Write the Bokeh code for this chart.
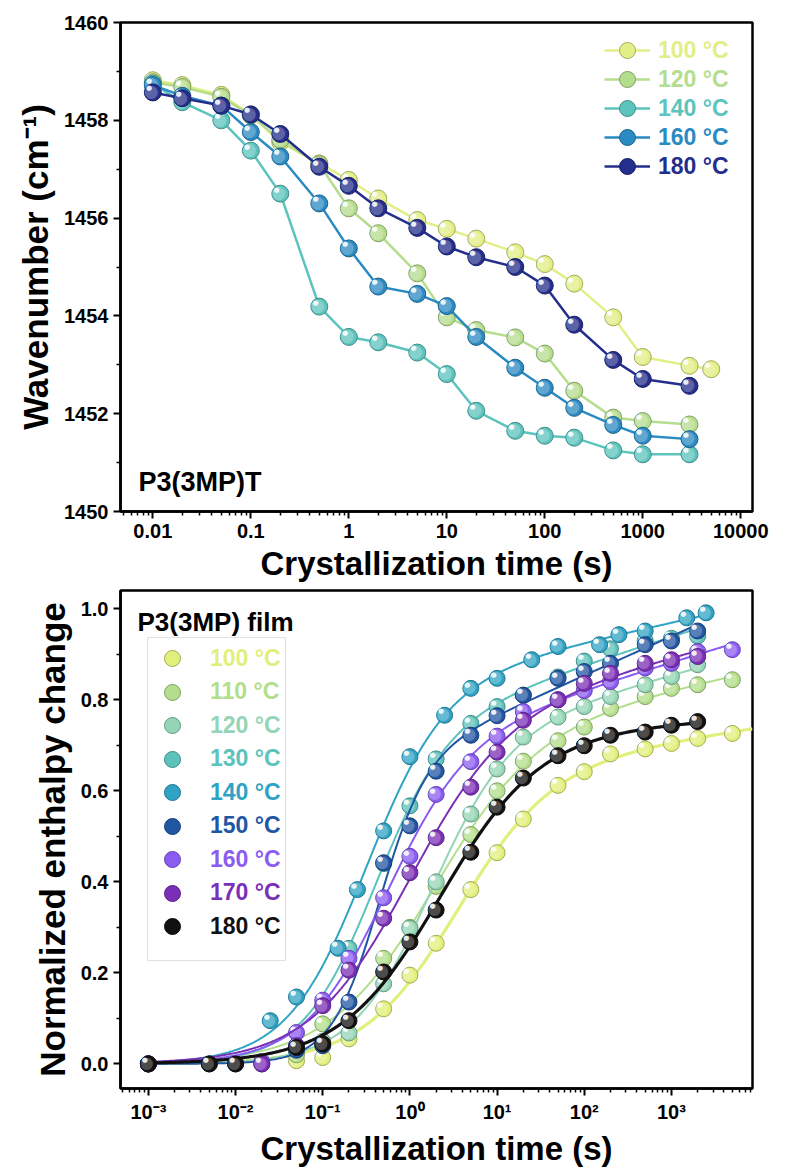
import numpy as np
from bokeh.plotting import figure
from bokeh.layouts import column
from bokeh.models import FixedTicker, Legend, LegendItem, Label, BoxAnnotation, Range1d
from bokeh.embed import file_html
from bokeh.resources import INLINE
from bokeh.core.properties import value

FONT = "Liberation Sans"
DOT_FONT = "DejaVu Sans"

# ---------------- Panel 1: band position vs. crystallization time ----------------
time_a = [0.01, 0.02, 0.05, 0.1, 0.2, 0.5, 1, 2, 5, 10, 20, 50, 100, 200, 500, 1000, 3000]
time_a_100 = time_a + [5000]
wn_100 = [1458.82, 1458.72, 1458.52, 1458.12, 1457.55, 1457.12, 1456.78, 1456.40, 1455.96,
          1455.78, 1455.58, 1455.30, 1455.06, 1454.66, 1453.97, 1453.16, 1452.98, 1452.91]
wn_120 = [1458.78, 1458.68, 1458.48, 1458.10, 1457.60, 1457.10, 1456.20, 1455.69, 1454.87,
          1453.97, 1453.71, 1453.56, 1453.23, 1452.47, 1451.92, 1451.85, 1451.78]
wn_140 = [1458.75, 1458.37, 1458.00, 1457.38, 1456.50, 1454.19, 1453.57, 1453.46, 1453.25,
          1452.81, 1452.06, 1451.65, 1451.55, 1451.51, 1451.25, 1451.17, 1451.17]
wn_160 = [1458.72, 1458.50, 1458.30, 1457.76, 1457.26, 1456.30, 1455.38, 1454.60, 1454.45,
          1454.20, 1453.57, 1452.94, 1452.53, 1452.12, 1451.77, 1451.55, 1451.48]
wn_180 = [1458.57, 1458.45, 1458.30, 1458.12, 1457.72, 1457.05, 1456.66, 1456.20, 1455.80,
          1455.42, 1455.20, 1455.00, 1454.62, 1453.82, 1453.10, 1452.71, 1452.57]
labels_a = ["100 °C", "120 °C", "140 °C", "160 °C", "180 °C"]
colors_a = ["#e2ee86", "#b5dd8e", "#5cc3bd", "#2a8ac2", "#242e8c"]
xticks_a = [0.01, 0.1, 1, 10, 100, 1000, 10000]
xtick_labels_a = ["0.01", "0.1", "1", "10", "100", "1000", "10000"]
yticks_a = [1450, 1452, 1454, 1456, 1458, 1460]

# ---------------- Panel 2: normalized enthalpy change (DSC) ----------------
t_100 = [0.001, 0.05, 0.1, 0.2, 0.5, 1, 2, 5, 10, 20, 50, 100, 200, 500, 1000, 2000, 5000]
h_100 = [0.0, 0.007, 0.014, 0.055, 0.121, 0.195, 0.265, 0.383, 0.464, 0.538, 0.612, 0.642,
         0.681, 0.692, 0.704, 0.715, 0.726]
t_110 = [0.001, 0.05, 0.1, 0.5, 1, 2, 5, 10, 20, 50, 100, 200, 500, 1000, 2000, 5000]
h_110 = [0.0, 0.02, 0.088, 0.232, 0.30, 0.39, 0.504, 0.60, 0.665, 0.71, 0.74, 0.781, 0.807,
         0.825, 0.833, 0.844]
t_120 = [0.001, 0.1, 0.2, 0.5, 1, 2, 5, 10, 20, 50, 100, 200, 500, 1000, 2000]
h_120 = [0.0, 0.05, 0.068, 0.176, 0.298, 0.40, 0.549, 0.648, 0.718, 0.762, 0.785, 0.807,
         0.833, 0.851, 0.877]
t_130 = [0.001, 0.2, 0.5, 1, 2, 5, 10, 20, 50, 100, 200, 500, 1000, 2000]
h_130 = [0.0, 0.254, 0.44, 0.567, 0.67, 0.748, 0.785, 0.81, 0.85, 0.885, 0.912, 0.93, 0.935,
         0.94]
t_140 = [0.001, 0.025, 0.05, 0.15, 0.25, 0.5, 1, 2.5, 5, 10, 25, 50, 150, 250, 500, 1500, 2500]
h_140 = [0.0, 0.095, 0.147, 0.254, 0.383, 0.512, 0.675, 0.766, 0.825, 0.847, 0.888, 0.917,
         0.921, 0.943, 0.951, 0.98, 0.991]
t_150 = [0.001, 0.005, 0.01, 0.02, 0.05, 0.1, 0.2, 0.5, 1, 2, 5, 10, 20, 50, 100, 200, 500,
         1000, 2000]
h_150 = [0.0, 0.0, 0.0, 0.0, 0.03, 0.04, 0.136, 0.442, 0.523, 0.643, 0.722, 0.765, 0.81, 0.847,
         0.862, 0.88, 0.921, 0.929, 0.951]
t_160 = [0.001, 0.02, 0.05, 0.1, 0.2, 0.5, 1, 2, 5, 10, 20, 50, 100, 200, 500, 1000, 2000, 5000]
h_160 = [0.0, 0.005, 0.069, 0.14, 0.232, 0.365, 0.456, 0.592, 0.664, 0.72, 0.774, 0.80, 0.82,
         0.84, 0.87, 0.88, 0.906, 0.91]
t_170 = [0.001, 0.02, 0.05, 0.1, 0.2, 0.5, 1, 2, 5, 10, 20, 50, 100, 200, 500, 1000, 2000]
h_170 = [0.0, 0.0, 0.04, 0.128, 0.206, 0.32, 0.42, 0.497, 0.608, 0.685, 0.755, 0.80, 0.836,
         0.858, 0.88, 0.888, 0.895]
t_180 = [0.001, 0.005, 0.01, 0.05, 0.1, 0.2, 0.5, 1, 2, 5, 10, 20, 50, 100, 200, 500, 1000, 2000]
h_180 = [0.0, 0.0, 0.0, 0.036, 0.044, 0.095, 0.202, 0.268, 0.338, 0.465, 0.564, 0.628, 0.677,
         0.699, 0.722, 0.729, 0.744, 0.752]
labels_b = ["100 °C", "110 °C", "120 °C", "130 °C", "140 °C", "150 °C", "160 °C", "170 °C", "180 °C"]
colors_b = ["#e1ef7c", "#b3de8c", "#93d5b5", "#5cc2bc", "#2fa3c4", "#2156a3", "#8b5cf2",
            "#7a30b6", "#111111"]
fit_end_b = [8500, 5000, 2000, 2000, 2500, 2000, 5000, 2000, 2000]
fit_width_b = [3.2, 2, 2, 2, 2, 2, 2, 2, 3.2]
xticks_b = [1e-3, 1e-2, 1e-1, 1, 10, 100, 1000]
xtick_labels_b = ["10⁻³", "10⁻²", "10⁻¹", "10⁰", "10¹", "10²", "10³"]
yticks_b = [0.0, 0.2, 0.4, 0.6, 0.8, 1.0]
ytick_labels_b = ["0.0", "0.2", "0.4", "0.6", "0.8", "1.0"]

series_b = [(t_100, h_100), (t_110, h_110), (t_120, h_120), (t_130, h_130), (t_140, h_140),
            (t_150, h_150), (t_160, h_160), (t_170, h_170), (t_180, h_180)]


def kinetics_fit(t, y):
    """Least-squares fit of A*t^n/(tau^n+t^n) + S*log10(1+t/tau) (primary + secondary)."""
    t = np.asarray(t, float)
    y = np.asarray(y, float)
    ltau = np.arange(-2.5, 2.0, 0.02)[:, None, None]
    n = np.arange(0.4, 3.2, 0.04)[None, :, None]
    tau = 10.0 ** ltau
    tt = t[None, None, :]
    H = 1.0 / (1.0 + (tau / tt) ** n)
    L = np.log10(1.0 + tt / tau) * np.ones_like(H)
    a11 = (H * H).sum(-1)
    a12 = (H * L).sum(-1)
    a22 = (L * L).sum(-1)
    b1 = (H * y).sum(-1)
    b2 = (L * y).sum(-1)
    with np.errstate(all="ignore"):
        det = a11 * a22 - a12 * a12
        A = (b1 * a22 - b2 * a12) / det
        S = (a11 * b2 - a12 * b1) / det
        res = ((A[..., None] * H + S[..., None] * L - y) ** 2).sum(-1)
    res = np.where((S >= 0) & (A > 0) & np.isfinite(res), res, np.inf)
    i, j = np.unravel_index(np.argmin(res), res.shape)
    return A[i, j], S[i, j], float(tau[i, 0, 0]), float(n[0, j, 0])


def fit_curve(params, t_end):
    A, S, tau, n = params
    tf = np.logspace(-3, np.log10(t_end), 400)
    return tf, A / (1.0 + (tau / tf) ** n) + S * np.log10(1.0 + tf / tau)


def shade(hex_color, f):
    h = hex_color.lstrip("#")
    r, g, b = (int(h[k:k + 2], 16) for k in (0, 2, 4))
    return "#%02x%02x%02x" % (int(r * f), int(g * f), int(b * f))


def sphere(p, x, y, color, size):
    """Shaded ball marker: base disc, soft light area and a specular spot."""
    r = p.scatter(x, y, size=size, marker="circle", fill_color=color,
                  line_color=shade(color, 0.72), line_width=1)
    k = len(x)
    p.text(x, y, text=["●"] * k, text_font=value(DOT_FONT), text_font_size=f"{size * 1.0:.0f}px",
           text_color="white", text_alpha=0.25, text_align="center", text_baseline="middle",
           x_offset=-size * 0.1, y_offset=-size * 0.1)
    p.text(x, y, text=["●"] * k, text_font=value(DOT_FONT), text_font_size=f"{size * 0.42:.0f}px",
           text_color="white", text_alpha=0.9, text_align="center", text_baseline="middle",
           x_offset=-size * 0.22, y_offset=-size * 0.24)
    return r


def style(p, xticks, xlabels, yticks, ylabels, yminor, xtitle, ytitle):
    xminor = [m * 10.0 ** e for e in range(-4, 6) for m in range(2, 10)]
    p.xaxis.ticker = FixedTicker(ticks=xticks, minor_ticks=xminor)
    p.xaxis.major_label_overrides = {t: s for t, s in zip(xticks, xlabels)}
    p.yaxis.ticker = FixedTicker(ticks=yticks, minor_ticks=yminor)
    p.yaxis.major_label_overrides = {t: s for t, s in zip(yticks, ylabels)}
    for ax in (p.xaxis[0], p.yaxis[0]):
        ax.axis_line_width = 2.5
        ax.major_tick_line_width = 2
        ax.minor_tick_line_width = 1.5
        ax.major_tick_out = 7
        ax.major_tick_in = 0
        ax.minor_tick_out = 4
        ax.minor_tick_in = 0
        ax.major_label_text_font = FONT
        ax.major_label_text_font_style = "bold"
        ax.major_label_text_font_size = "20px"
        ax.major_label_text_color = "black"
        ax.axis_label_text_font = FONT
        ax.axis_label_text_font_style = "bold"
        ax.axis_label_text_color = "black"
        ax.major_label_standoff = 5
    p.xaxis.axis_label = xtitle
    p.yaxis.axis_label = ytitle
    p.xaxis.axis_label_text_font_size = "33px"
    p.yaxis.axis_label_text_font_size = "35px"
    p.xaxis.axis_label_standoff = 4
    p.yaxis.axis_label_standoff = 6
    p.xgrid.visible = False
    p.ygrid.visible = False
    p.outline_line_color = "black"
    p.outline_line_width = 2.5
    p.outline_line_alpha = 1


# ---------------- build panel 1 ----------------
p1 = figure(width=787, height=585, x_axis_type="log",
            x_range=Range1d(10 ** -2.33, 10 ** 4.12), y_range=Range1d(1450, 1460),
            output_backend="svg", toolbar_location=None,
            min_border_left=115, min_border_right=30, min_border_top=22, min_border_bottom=74)
style(p1, xticks_a, xtick_labels_a, yticks_a, [str(v) for v in yticks_a],
      list(range(1451, 1460, 2)), "Crystallization time (s)", "Wavenumber (cm⁻¹)")

series_a = [(time_a_100, wn_100), (time_a, wn_120), (time_a, wn_140), (time_a, wn_160), (time_a, wn_180)]
frame_h1 = 585 - 22 - 74
row_top_a = [28, 57, 86, 115, 144]
for (tx, wy), lab, col, rt in zip(series_a, labels_a, colors_a, row_top_a):
    ln = p1.line(tx, wy, line_color=col, line_width=2.5)
    sc = sphere(p1, tx, wy, col, 17)
    leg = Legend(items=[LegendItem(label=lab, renderers=[ln, sc])],
                 location=(484, frame_h1 - rt - 20), glyph_width=46, glyph_height=40,
                 label_height=40, label_standoff=8, padding=0, margin=0, spacing=0,
                 border_line_alpha=0, background_fill_alpha=0,
                 label_text_font=FONT, label_text_font_style="bold",
                 label_text_font_size="23px", label_text_color=col)
    p1.add_layout(leg)

p1.add_layout(Label(x=18, y=30, x_units="screen", y_units="screen", text="P3(3MP)T",
                    text_font=FONT, text_font_style="bold", text_font_size="27px",
                    text_baseline="middle", text_color="black"))

# ---------------- build panel 2 ----------------
p2 = figure(width=787, height=584, x_axis_type="log",
            x_range=Range1d(10 ** -3.32, 10 ** 3.93), y_range=Range1d(-0.054, 1.04),
            output_backend="svg", toolbar_location=None,
            min_border_left=120, min_border_right=35, min_border_top=5, min_border_bottom=76)
style(p2, xticks_b, xtick_labels_b, yticks_b, ytick_labels_b, [0.1, 0.3, 0.5, 0.7, 0.9],
      "Crystallization time (s)", "Normalized enthalpy change")

frame_h2 = 584 - 5 - 76
markers_b = []
for (tx, hy), col, end, lw in zip(series_b, colors_b, fit_end_b, fit_width_b):
    tf, yf = fit_curve(kinetics_fit(tx, hy), end)
    p2.line(tf, yf, line_color=col, line_width=lw)
    markers_b.append(sphere(p2, tx, hy, col, 16))

row_top_b = [73, 106.5, 140, 173.5, 207, 240.5, 274, 307.5, 341]
for sc, lab, col, rt in zip(markers_b, labels_b, colors_b, row_top_b):
    leg = Legend(items=[LegendItem(label=lab, renderers=[sc])],
                 location=(32, frame_h2 - rt - 20), glyph_width=40, glyph_height=40,
                 label_height=40, label_standoff=18, padding=0, margin=0, spacing=0,
                 border_line_alpha=0, background_fill_alpha=0,
                 label_text_font=FONT, label_text_font_style="bold",
                 label_text_font_size="23px", label_text_color=col)
    p2.add_layout(leg)

p2.add_layout(BoxAnnotation(left=27, right=165, top=frame_h2 - 52, bottom=frame_h2 - 375,
                            left_units="screen", right_units="screen",
                            top_units="screen", bottom_units="screen",
                            fill_alpha=0, line_color="#9a9a9a", line_width=1.2))
p2.add_layout(Label(x=17, y=frame_h2 - 36, x_units="screen", y_units="screen",
                    text="P3(3MP) film", text_font=FONT, text_font_style="bold",
                    text_font_size="26px", text_baseline="middle", text_color="black"))

layout = column(p1, p2, spacing=0)
open("out.html", "w").write(file_html(layout, INLINE))
